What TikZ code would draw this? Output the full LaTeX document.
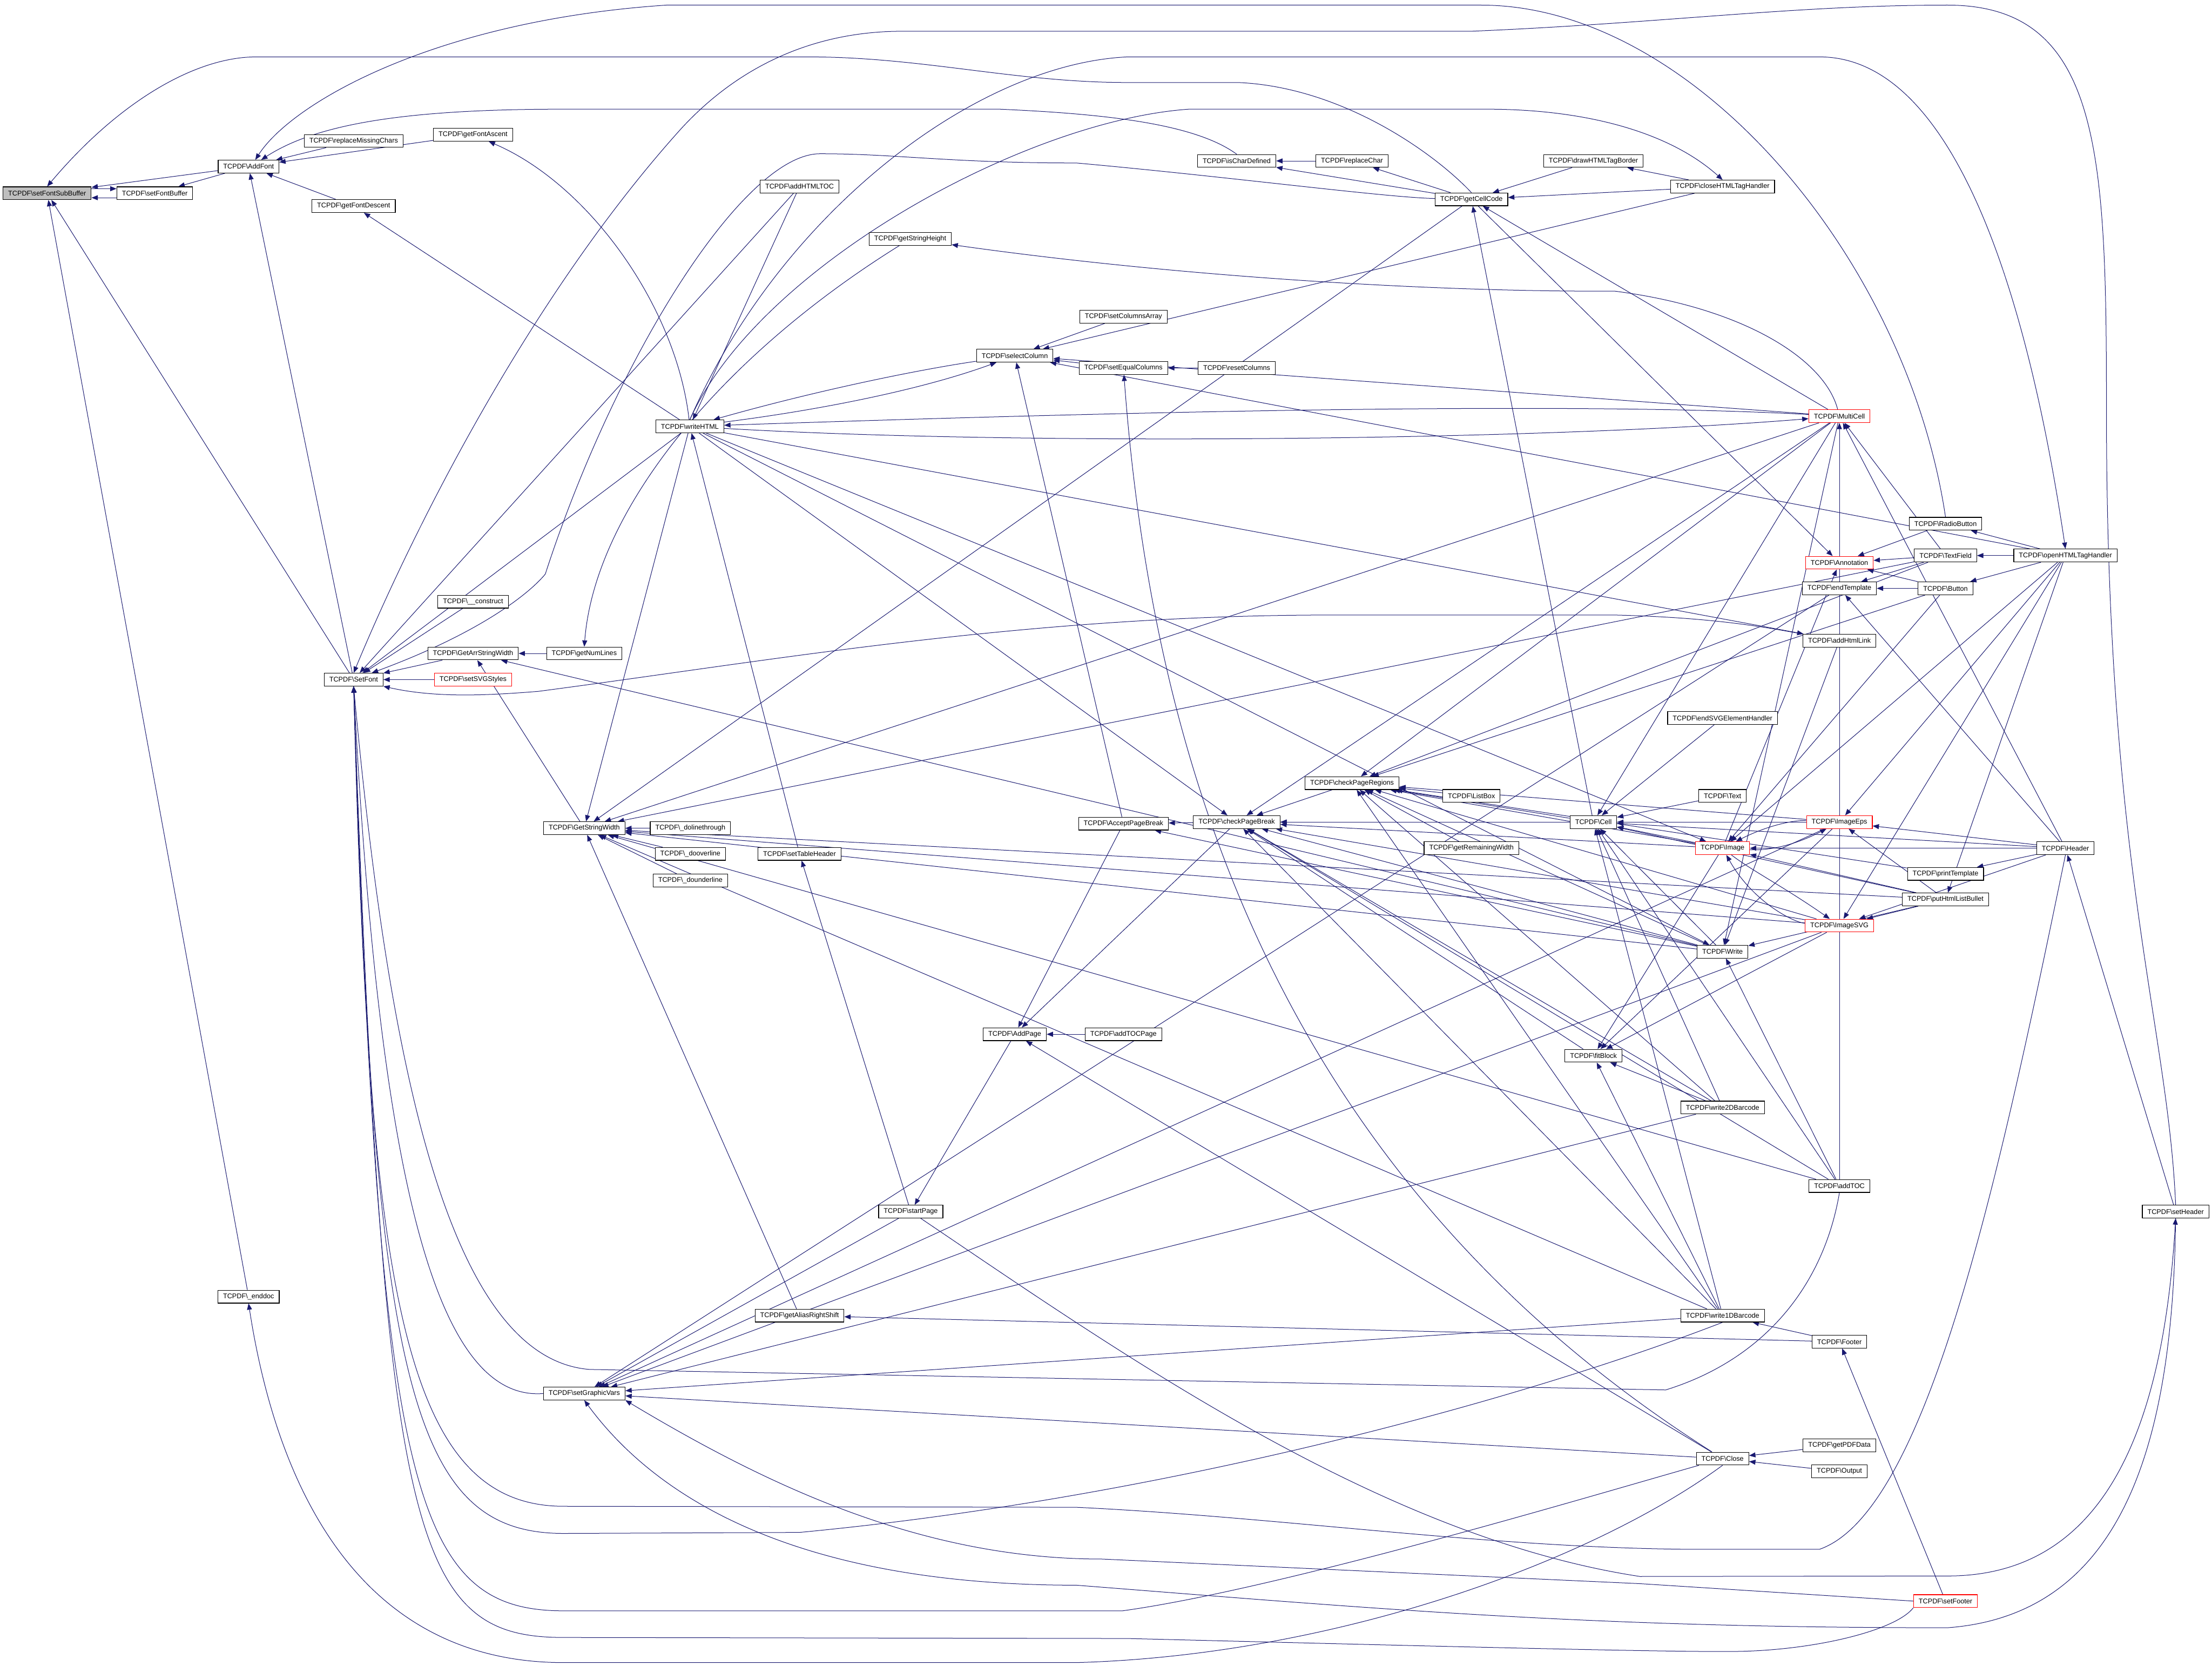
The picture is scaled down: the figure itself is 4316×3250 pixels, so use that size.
\documentclass[tikz,border=0pt]{standalone}
\usepackage{fontspec}
\setmainfont{Liberation Sans}
\usetikzlibrary{arrows.meta,backgrounds}
\definecolor{edgeblue}{HTML}{191970}
\newcommand{\tcpdf}{TCPDF\textbackslash}
\tikzset{
  fn/.style={draw=black,fill=white,line width=0.7pt,inner xsep=0.2cm,inner ysep=0pt,minimum height=0.5cm,font=\fontsize{7.6}{9}\selectfont},
  fnred/.style={fn,draw=red},
  fnroot/.style={fn,fill=black!25},
  call/.style={draw=edgeblue,line width=0.6pt,{Triangle[length=7pt,width=5.5pt]}-}
}
\begin{document}
\begin{tikzpicture}[x=0.02cm,y=-0.02cm]
\useasboundingbox (0,0) rectangle (4316,3250);
% functions, column by column
\node[fnroot] (sfsb) at (92,377) {\tcpdf setFontSubBuffer};
\node[fn] (sfb) at (302,377) {\tcpdf setFontBuffer};
\node[fn] (af) at (485,325) {\tcpdf AddFont};
\node[fn] (ed) at (485,2530) {\tcpdf\_enddoc};
\node[fn] (rmc) at (690,275) {\tcpdf replaceMissingChars};
\node[fn] (gfd) at (690,402) {\tcpdf getFontDescent};
\node[fn] (sf) at (690,1326) {\tcpdf SetFont};
\node[fn] (gfa) at (923,263) {\tcpdf getFontAscent};
\node[fn] (con) at (923,1174) {\tcpdf\_\_construct};
\node[fn] (gasw) at (923,1275) {\tcpdf GetArrStringWidth};
\node[fnred] (svgs) at (923,1326) {\tcpdf setSVGStyles};
\node[fn] (gnl) at (1140,1275) {\tcpdf getNumLines};
\node[fn] (gsw) at (1140,1616) {\tcpdf GetStringWidth};
\node[fn] (sgv) at (1140,2719) {\tcpdf setGraphicVars};
\node[fn] (wh) at (1346,832) {\tcpdf writeHTML};
\node[fn] (dlt) at (1347,1616) {\tcpdf\_dolinethrough};
\node[fn] (dov) at (1347,1666) {\tcpdf\_dooverline};
\node[fn] (dun) at (1347,1718) {\tcpdf\_dounderline};
\node[fn] (aht) at (1560,364) {\tcpdf addHTMLTOC};
\node[fn] (sth) at (1560,1666) {\tcpdf setTableHeader};
\node[fn] (gars) at (1560,2567) {\tcpdf getAliasRightShift};
\node[fn] (gsh) at (1776,466) {\tcpdf getStringHeight};
\node[fn] (sp) at (1777,2364) {\tcpdf startPage};
\node[fn] (sc) at (1980,694) {\tcpdf selectColumn};
\node[fn] (ap) at (1980,2018) {\tcpdf AddPage};
\node[fn] (sca) at (2192,618) {\tcpdf setColumnsArray};
\node[fn] (sec) at (2192,718) {\tcpdf setEqualColumns};
\node[fn] (apb) at (2192,1607) {\tcpdf AcceptPageBreak};
\node[fn] (atp) at (2192,2018) {\tcpdf addTOCPage};
\node[fn] (icd) at (2413,314) {\tcpdf isCharDefined};
\node[fn] (rc) at (2413,718) {\tcpdf resetColumns};
\node[fn] (cpb) at (2413,1604) {\tcpdf checkPageBreak};
\node[fn] (rch) at (2638,314) {\tcpdf replaceChar};
\node[fn] (cpr) at (2638,1528) {\tcpdf checkPageRegions};
\node[fn] (gcc) at (2871,389) {\tcpdf getCellCode};
\node[fn] (lb) at (2871,1553) {\tcpdf ListBox};
\node[fn] (grw) at (2871,1655) {\tcpdf getRemainingWidth};
\node[fn] (dtb) at (3109,314) {\tcpdf drawHTMLTagBorder};
\node[fn] (cell) at (3109,1604) {\tcpdf Cell};
\node[fn] (fb) at (3109,2060) {\tcpdf fitBlock};
\node[fn] (cht) at (3361,364) {\tcpdf closeHTMLTagHandler};
\node[fn] (ese) at (3361,1401) {\tcpdf endSVGElementHandler};
\node[fn] (txt) at (3361,1553) {\tcpdf Text};
\node[fnred] (img) at (3361,1655) {\tcpdf Image};
\node[fn] (wr) at (3361,1857) {\tcpdf Write};
\node[fn] (w2d) at (3361,2161) {\tcpdf write2DBarcode};
\node[fn] (w1d) at (3361,2567) {\tcpdf write1DBarcode};
\node[fn] (close) at (3361,2846) {\tcpdf Close};
\node[fnred] (mc) at (3589,812) {\tcpdf MultiCell};
\node[fnred] (ann) at (3589,1098) {\tcpdf Annotation};
\node[fn] (et) at (3589,1148) {\tcpdf endTemplate};
\node[fn] (ahl) at (3589,1250) {\tcpdf addHtmlLink};
\node[fnred] (ie) at (3589,1604) {\tcpdf ImageEps};
\node[fnred] (is) at (3589,1806) {\tcpdf ImageSVG};
\node[fn] (toc) at (3589,2314) {\tcpdf addTOC};
\node[fn] (foot) at (3589,2618) {\tcpdf Footer};
\node[fn] (pdf) at (3589,2820) {\tcpdf getPDFData};
\node[fn] (outp) at (3589,2871) {\tcpdf Output};
\node[fn] (rb) at (3796,1022) {\tcpdf RadioButton};
\node[fn] (tf) at (3796,1084) {\tcpdf TextField};
\node[fn] (bt) at (3796,1148) {\tcpdf Button};
\node[fn] (pt) at (3796,1705) {\tcpdf printTemplate};
\node[fn] (phlb) at (3796,1755) {\tcpdf putHtmlListBullet};
\node[fnred] (sfoot) at (3796,3124) {\tcpdf setFooter};
\node[fn] (oht) at (4030,1084) {\tcpdf openHTMLTagHandler};
\node[fn] (hdr) at (4030,1655) {\tcpdf Header};
\node[fn] (shdr) at (4245,2364) {\tcpdf setHeader};
% calls: arrow head sits at the called function
\begin{scope}[on background layer]
\draw[call] ([yshift=-5pt]sfsb.east) -- ([yshift=-5pt]sfb.west);
\draw[call] ([yshift=5pt]sfb.west) -- ([yshift=5pt]sfsb.east);
\foreach \caller in {af,sf,ed} \draw[call] (sfsb) -- (\caller);
\draw[call] (sfb) -- (af);
\foreach \caller in {rmc,gfa,gfd,sf} \draw[call] (af) -- (\caller);
\draw[call] (af.45) .. controls (570,200) and (850,40) .. (1300,10) -- (2890,10) .. controls (3300,10) and (3720,500) .. (rb.north);
\draw[call] (af.28) .. controls (620,240) and (800,213) .. (1100,213) -- (1950,213) .. controls (2150,222) and (2330,240) .. (icd.north);
\draw[call] (sfsb.north) .. controls (230,200) and (380,111) .. (500,111) -- (1576,111) .. controls (1800,111) and (1980,161) .. (2200,161) -- (2416,161) .. controls (2620,170) and (2800,300) .. (gcc.north);
\draw[call] (gfa) .. controls (1150,360) and (1320,600) .. (wh);
\draw[call] (gfd) -- (wh);
\draw[call] (ed.south) .. controls (540,2900) and (700,3244) .. (1100,3244) -- (2100,3244) .. controls (2600,3230) and (3100,3050) .. (close.south);
% SetFont
\foreach \caller in {con,gasw,svgs,aht,wh} \draw[call] (sf) -- (\caller);
\draw[call] (sf.north) .. controls (820,1000) and (1050,560) .. (1330,250) .. controls (1450,120) and (1600,61) .. (1760,61) -- (2870,61) .. controls (3250,45) and (3500,10) .. (3800,10) .. controls (4100,10) and (4110,300) .. (4110,800) .. controls (4110,1700) and (4230,2000) .. (shdr.north);
\draw[call] (sf) .. controls (950,1230) and (1040,1150) .. (1064,1120) .. controls (1200,700) and (1450,300) .. (1600,300) .. controls (1750,300) and (1850,318) .. (2100,318) .. controls (2400,345) and (2700,385) .. (gcc);
\draw[call] (sf.south east) .. controls (850,1362) and (950,1357) .. (1050,1349) .. controls (1500,1290) and (2000,1200) .. (2600,1200) -- (3150,1200) .. controls (3350,1205) and (3450,1225) .. (ahl);
\draw[call] (sf.south) .. controls (760,2100) and (880,2650) .. (1150,2672) -- (3250,2712) .. controls (3450,2650) and (3560,2500) .. (toc.south);
\draw[call] (sf.south) .. controls (740,2300) and (850,2735) .. (sgv.west);
\draw[call] (sf.south) .. controls (720,2500) and (780,2939) .. (1100,2939) -- (2100,2941) .. controls (2500,2960) and (2900,3020) .. (3300,3023) -- (3550,3023) .. controls (3760,2950) and (3900,2300) .. (hdr.south);
\draw[call] (sf.south) .. controls (730,2700) and (800,2992) .. (1100,2992) -- (1560,2990) .. controls (2300,2920) and (3000,2720) .. (w1d.south);
\draw[call] (sf.south) .. controls (740,2900) and (800,3143) .. (1100,3143) -- (2190,3143) .. controls (2500,3100) and (3100,2920) .. (close);
\draw[call] (sf.south) .. controls (750,3000) and (800,3195) .. (1100,3195) -- (2200,3197) .. controls (2800,3212) and (3300,3225) .. (3400,3222) .. controls (3550,3218) and (3700,3180) .. (sfoot.south west);
% string widths
\foreach \caller in {gsw,gnl,wr} \draw[call] (gasw) -- (\caller);
\draw[call] (gnl.north) .. controls (1160,1000) and (1400,700) .. (gsh);
\draw[call] (gsh) .. controls (2300,540) and (2800,570) .. (3150,568) .. controls (3400,600) and (3560,700) .. (mc);
\foreach \caller in {dlt,dov,dun,gars,gcc,wh,wr,mc,tf,phlb,toc,w1d,is} \draw[call] (gsw) -- (\caller);
% graphic vars
\foreach \caller in {sp,ie,is,close,et,w1d,w2d} \draw[call] (sgv) -- (\caller);
\draw[call] (sgv.south) .. controls (1300,2950) and (1600,3093) .. (2100,3093) .. controls (2700,3140) and (3100,3176) .. (3800,3176) .. controls (4150,3150) and (4240,2800) .. (shdr.south);
\draw[call] (shdr.south) .. controls (4220,2800) and (4100,3075) .. (3800,3075) -- (3200,3076) .. controls (2700,3000) and (2200,2650) .. (sp);
\draw[call] (sgv.south east) .. controls (1500,2900) and (1800,3042) .. (2150,3042) -- (3200,3090) -- (sfoot.west);
% html
\foreach \caller in {aht,sth} \draw[call] (wh) -- (\caller);
\draw[call] (wh) .. controls (1600,760) and (1800,720) .. (sc);
\draw[call] (sc) .. controls (1800,760) and (1600,800) .. (wh);
\draw[call] (wh) .. controls (2000,810) and (3000,780) .. (mc);
\draw[call] (mc) .. controls (3000,860) and (2000,870) .. (wh);
\draw[call] (sth) -- (sp);
\draw[call] (gars) -- (foot);
\draw[call] (sp) -- (ap);
\foreach \caller in {sca,sec,apb,mc,cht,oht} \draw[call] (sc) -- (\caller);
\draw[call] (sec) -- (rc);
\draw[call] (sec) .. controls (2250,1500) and (2500,2300) .. (close);
% pages
\foreach \caller in {cpb,wr} \draw[call] (apb) -- (\caller);
\foreach \caller in {apb,cpb,atp,close} \draw[call] (ap) -- (\caller);
\foreach \caller in {wh,mc,cell,wr,img,ie,is,w1d,w2d,toc,cpr,fb} \draw[call] (cpb) -- (\caller);
\foreach \caller in {lb,grw,cell,mc,wr,img,ie,is,w1d,w2d,tf,bt,pt} \draw[call] (cpr) -- (\caller);
% cells
\foreach \caller in {dtb,cht,mc,cell} \draw[call] (gcc) -- (\caller);
\foreach \caller in {gcc,rch} \draw[call] (icd) -- (\caller);
\draw[call] (rch) -- (gcc);
\draw[call] (dtb) -- (cht);
\draw[call] (cht.north) .. controls (3260,260) and (3100,213) .. (2900,213) -- (2320,213) .. controls (2000,235) and (1480,520) .. (wh.north);
\foreach \caller in {txt,ese,ie,img,mc,wr,toc,w1d,w2d,phlb,hdr} \draw[call] (cell) -- (\caller);
\foreach \caller in {img,ie,is,w1d,w2d} \draw[call] (fb) -- (\caller);
% images
\foreach \caller in {hdr,phlb,wh,bt,oht} \draw[call] (img) -- (\caller);
\draw[call] (img) .. controls (3450,1610) and (3500,1600) .. (ie);
\draw[call] (ie) .. controls (3500,1650) and (3450,1660) .. (img);
\draw[call] (img) .. controls (3420,1760) and (3500,1800) .. (is);
\draw[call] (is) .. controls (3480,1730) and (3420,1700) .. (img);
\foreach \caller in {hdr,phlb,oht} \draw[call] (ie) -- (\caller);
\foreach \caller in {hdr,phlb,oht} \draw[call] (is) -- (\caller);
\foreach \caller in {ahl,mc,wh,toc,phlb} \draw[call] (wr) -- (\caller);
\foreach \caller in {tf,hdr,toc} \draw[call] (mc) -- (\caller);
% forms and templates
\foreach \caller in {tf,rb,bt,img,gcc} \draw[call] (ann) -- (\caller);
\foreach \caller in {bt,tf,hdr} \draw[call] (et) -- (\caller);
\draw[call] (ahl) -- (wh);
\foreach \callee in {rb,tf,bt,phlb} \draw[call] (\callee) -- (oht);
\draw[call] (oht.north) .. controls (3960,600) and (3820,111) .. (3550,111) -- (2200,111) .. controls (1900,125) and (1520,420) .. (wh.north);
\draw[call] (pt) -- (hdr);
\draw[call] (hdr) -- (shdr);
\draw[call] (foot) -- (sfoot);
\foreach \caller in {pdf,outp} \draw[call] (close) -- (\caller);
\draw[call] (w1d) -- (foot);
\end{scope}
\end{tikzpicture}
\end{document}
